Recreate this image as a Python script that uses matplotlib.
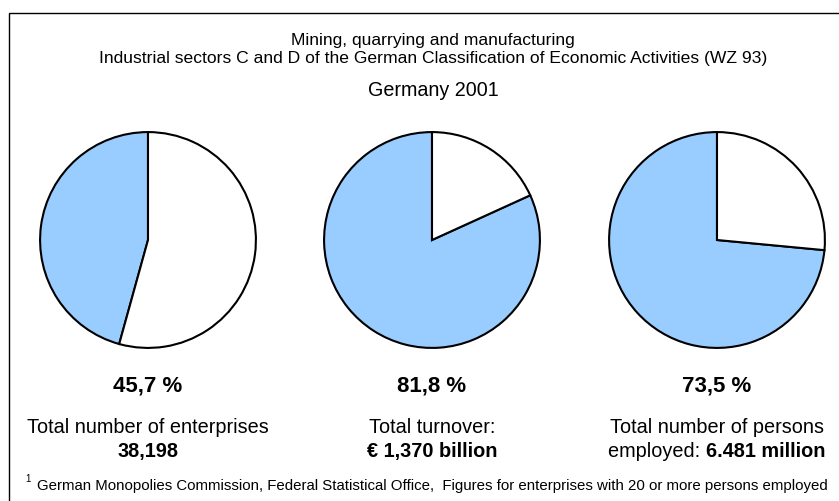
import matplotlib
matplotlib.use("Agg")
import matplotlib.pyplot as plt
from matplotlib.patches import Rectangle

plt.rcParams['font.family'] = ['Liberation Sans', 'DejaVu Sans']

# Share of the largest enterprises (per cent)
shares = [45.7, 81.8, 73.5]
share_labels = ["45,7 %", "81,8 %", "73,5 %"]
desc_line1 = ["Total number of enterprises", "Total turnover:", "Total number of persons"]
desc_line2_plain = ["", "", "employed: "]
desc_line2_bold = ["38,198", "€ 1,370 billion", "6.481 million"]

title1 = "Mining, quarrying and manufacturing"
title2 = "Industrial sectors C and D of the German Classification of Economic Activities (WZ 93)"
subtitle = "Germany 2001"
footnote = "German Monopolies Commission, Federal Statistical Office,  Figures for enterprises with 20 or more persons employed"

W, H = 839, 502
fig = plt.figure(figsize=(W / 100, H / 100), dpi=100)

# frame (only left and top edges are inside the picture)
fig.patches.append(Rectangle((9 / W, -0.1), 1.2, 1 - 14 / H + 0.1, transform=fig.transFigure,
                             fill=False, edgecolor='black', linewidth=1.0))

centers = [148, 432, 717]
cy = 241
r = 109
for cx, s in zip(centers, shares):
    ax = fig.add_axes([(cx - r) / W, 1 - (cy + r) / H, 2 * r / W, 2 * r / H])
    ax.pie([s, 100 - s], colors=['#99ccff', 'white'], startangle=90, counterclock=True,
           wedgeprops=dict(edgecolor='black', linewidth=1.5))
    ax.set_xlim(-1.01, 1.01)
    ax.set_ylim(-1.01, 1.01)
    ax.axis('off')

fig.text(433 / W, 1 - 40 / H, title1, ha='center', va='center', fontsize=12.6)
fig.text(433 / W, 1 - 58 / H, title2, ha='center', va='center', fontsize=12.6)
fig.text(433 / W, 1 - 91 / H, subtitle, ha='center', va='center', fontsize=14.2)

fig.canvas.draw()
rend = fig.canvas.get_renderer()
for i, cx in enumerate(centers):
    fig.text(cx / W, 1 - 386 / H, share_labels[i], ha='center', va='center',
             fontsize=16, fontweight='bold')
    fig.text(cx / W, 1 - 428 / H, desc_line1[i], ha='center', va='center', fontsize=14.3)
    if desc_line2_plain[i]:
        # plain part followed by bold part, centred together
        t1 = fig.text(0, 1 - 452 / H, desc_line2_plain[i], ha='left', va='center', fontsize=14.3)
        t2 = fig.text(0, 1 - 452 / H, desc_line2_bold[i], ha='left', va='center',
                      fontsize=14.3, fontweight='bold')
        w1 = t1.get_window_extent(rend).width
        w2 = t2.get_window_extent(rend).width
        x0 = cx - (w1 + w2) / 2
        t1.set_x(x0 / W)
        t2.set_x((x0 + w1) / W)
    else:
        fig.text(cx / W, 1 - 452 / H, desc_line2_bold[i], ha='center', va='center',
                 fontsize=14.3, fontweight='bold')

fig.text(37 / W, 1 - 486 / H, footnote, ha='left', va='center', fontsize=10.8)
fig.text(31 / W, 1 - 479 / H, "1", ha='right', va='center', fontsize=7)

fig.savefig('out.png', dpi=100, facecolor='white')
